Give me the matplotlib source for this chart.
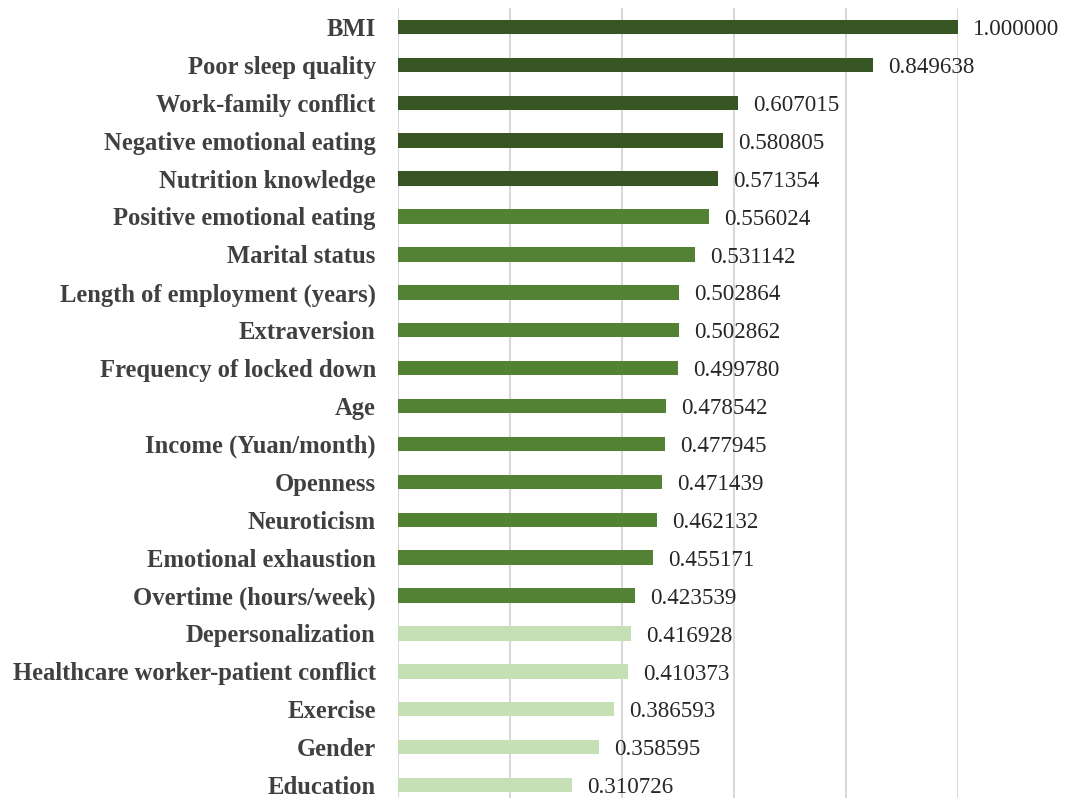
import numpy as np
import matplotlib.pyplot as plt

# feature importance (normalized)
features = ['BMI', 'Poor sleep quality', 'Work-family conflict', 'Negative emotional eating',
            'Nutrition knowledge', 'Positive emotional eating', 'Marital status',
            'Length of employment (years)', 'Extraversion', 'Frequency of locked down', 'Age',
            'Income (Yuan/month)', 'Openness', 'Neuroticism', 'Emotional exhaustion',
            'Overtime (hours/week)', 'Depersonalization', 'Healthcare worker-patient conflict',
            'Exercise', 'Gender', 'Education']
importance = [1.000000, 0.849638, 0.607015, 0.580805, 0.571354, 0.556024, 0.531142,
              0.502864, 0.502862, 0.499780, 0.478542, 0.477945, 0.471439, 0.462132,
              0.455171, 0.423539, 0.416928, 0.410373, 0.386593, 0.358595, 0.310726]
tier = [0]*5 + [1]*11 + [2]*5
tier_colors = ['#375623', '#548235', '#C5E0B4']

plt.rcParams['font.family'] = ['Liberation Serif', 'DejaVu Serif']

fig = plt.figure(figsize=(10.68, 7.98), dpi=100)
ax = fig.add_axes([398/1068, 0, (957.5-398)/1068, 790/798])

ypos = np.arange(len(features))
cols = [tier_colors[t] for t in tier]
ax.barh(ypos, importance, height=0.38, color=cols, zorder=3)

for y, v in zip(ypos, importance):
    ax.text(v + 0.027, y + 0.07, f'{v:.6f}', va='center', ha='left', fontsize=16.6,
            color='#262626', clip_on=False)

ax.set_xlim(0, 1)
ax.set_ylim(20.34, -0.5)
ax.set_xticks(np.arange(0, 1.01, 0.2))
ax.set_xticklabels([])
ax.tick_params(axis='x', length=0)
ax.grid(axis='x', color='#D9D9D9', linewidth=1.5, zorder=0)
ax.set_yticks(ypos)
ax.set_yticklabels(features, fontsize=17.7, fontweight='bold', color='#404040')
ax.tick_params(axis='y', length=0, pad=16)
for s in ax.spines.values():
    s.set_visible(False)

fig.savefig('out.png', dpi=100)
